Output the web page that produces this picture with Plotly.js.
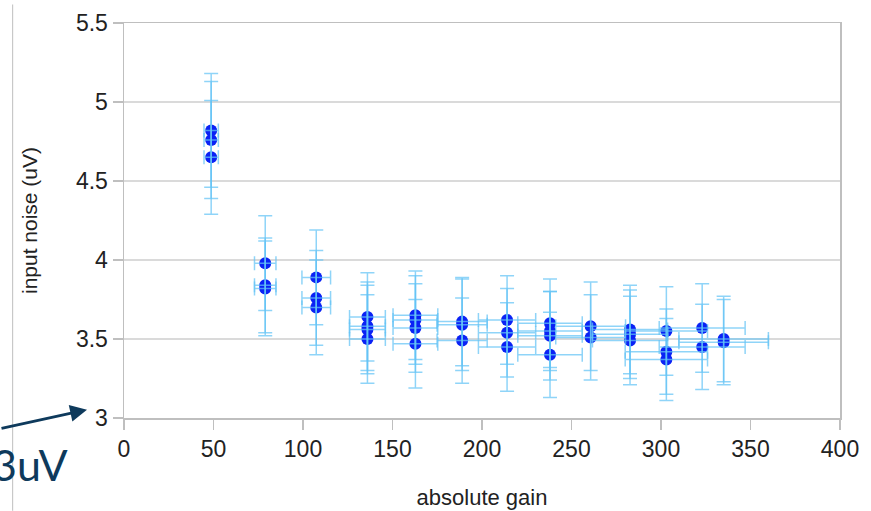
<!DOCTYPE html>
<html>
<head>
<meta charset="utf-8">
<script src="https://cdn.plot.ly/plotly-3.0.1.min.js"></script>
<style>
  html, body { margin: 0; padding: 0; background: #ffffff; }
  #chart { width: 871px; height: 511px; }
</style>
</head>
<body>
<div id="chart"></div>
<script>
// absolute gain (x) for each measurement
const gain = [
  48.7, 48.7, 48.7,
  78.9, 78.9, 78.9,
  107.4, 107.4, 107.4,
  136, 136, 136, 136,
  162.8, 162.8, 162.8, 162.8,
  188.9, 188.9, 188.9,
  214, 214, 214,
  238, 238, 238, 238,
  260.7, 260.7,
  282.7, 282.7, 282.7,
  303, 303, 303,
  323, 323,
  335, 335
];
// input noise (uV)
const noise = [
  4.82, 4.76, 4.65,
  3.98, 3.84, 3.82,
  3.89, 3.76, 3.70,
  3.64, 3.58, 3.56, 3.50,
  3.65, 3.62, 3.57, 3.47,
  3.61, 3.59, 3.49,
  3.62, 3.54, 3.45,
  3.60, 3.55, 3.52, 3.40,
  3.58, 3.51,
  3.56, 3.53, 3.49,
  3.55, 3.42, 3.37,
  3.57, 3.45,
  3.50, 3.48
];
// vertical error (uV)
const noiseErr = [
  0.36, 0.37, 0.36,
  0.30, 0.30, 0.30,
  0.30, 0.30, 0.30,
  0.28, 0.28, 0.28, 0.28,
  0.28, 0.28, 0.28, 0.28,
  0.28, 0.29, 0.27,
  0.28, 0.28, 0.28,
  0.28, 0.25, 0.28, 0.27,
  0.28, 0.27,
  0.28, 0.28, 0.28,
  0.28, 0.27, 0.26,
  0.28, 0.27,
  0.27, 0.27
];
// horizontal error (gain)
const gainErr = [
  4, 4, 4,
  6, 6, 6,
  8, 8, 8,
  10, 10, 10, 10,
  12.5, 12.5, 12.5, 12.5,
  14, 14, 14,
  16, 16, 16,
  18, 18, 18, 18,
  19.5, 19.5,
  21, 21, 21,
  23, 23, 23,
  24, 24,
  25, 25
];

const barColor = 'rgba(100,195,245,0.72)';

const markersTrace = {
  type: 'scatter', mode: 'markers',
  x: gain, y: noise,
  marker: { color: '#0a22f5', size: 12, line: { width: 0 } },
  hoverinfo: 'x+y', showlegend: false, cliponaxis: false
};
const errorTrace = {
  type: 'scatter', mode: 'markers',
  x: gain, y: noise,
  marker: { color: 'rgba(0,0,0,0)', size: 12 },
  error_y: { type: 'data', array: noiseErr, visible: true, color: barColor, thickness: 1.5, width: 7 },
  error_x: { type: 'data', array: gainErr, visible: true, color: barColor, thickness: 1.5, width: 7 },
  hoverinfo: 'skip', showlegend: false, cliponaxis: false
};

const axisColor = '#bfbfbf';
const layout = {
  width: 871, height: 511,
  margin: { l: 124, r: 31, t: 23, b: 93 },
  paper_bgcolor: '#ffffff', plot_bgcolor: '#ffffff',
  font: { family: '"Liberation Sans", Arial, sans-serif', color: '#222222' },
  xaxis: {
    range: [0, 400], dtick: 50, tick0: 0,
    showgrid: false, zeroline: false,
    showline: true, linecolor: axisColor, linewidth: 1.5, mirror: true,
    ticks: 'outside', ticklen: 10, tickcolor: axisColor, tickwidth: 1.5,
    tickfont: { size: 23, color: '#222222' },
    title: { text: 'absolute gain', font: { size: 22, color: '#222222' }, standoff: 28 }
  },
  yaxis: {
    range: [3, 5.5], dtick: 0.5, tick0: 3,
    showgrid: true, gridcolor: '#dadada', gridwidth: 1.5, zeroline: false,
    showline: true, linecolor: axisColor, linewidth: 1.5, mirror: true,
    ticks: 'outside', ticklen: 10, tickcolor: axisColor, tickwidth: 1.5,
    tickfont: { size: 23, color: '#222222' },
    title: { text: 'input noise (uV)', font: { size: 21, color: '#222222' }, standoff: 32 }
  },
  shapes: [
    { type: 'line', xref: 'paper', yref: 'paper',
      x0: -0.1556, x1: -0.1556, y0: -0.235, y1: 1.047,
      line: { color: '#c8c8c8', width: 1.2 } }
  ],
  annotations: [
    { xref: 'paper', yref: 'paper', x: -0.0517, y: 0.021,
      text: '', showarrow: true, arrowhead: 2, arrowsize: 1.2, arrowwidth: 2.8,
      arrowcolor: '#0e3a5c', ax: -100, ay: 19 },
    { xref: 'paper', yref: 'paper', x: -0.187, y: -0.118,
      xanchor: 'left', yanchor: 'middle', showarrow: false,
      text: '3uV', font: { family: 'Lato, "Open Sans", sans-serif', size: 43, color: '#0e3a5c' } }
  ]
};

Plotly.newPlot('chart', [markersTrace, errorTrace], layout, { staticPlot: true, displayModeBar: false });
</script>
</body>
</html>
